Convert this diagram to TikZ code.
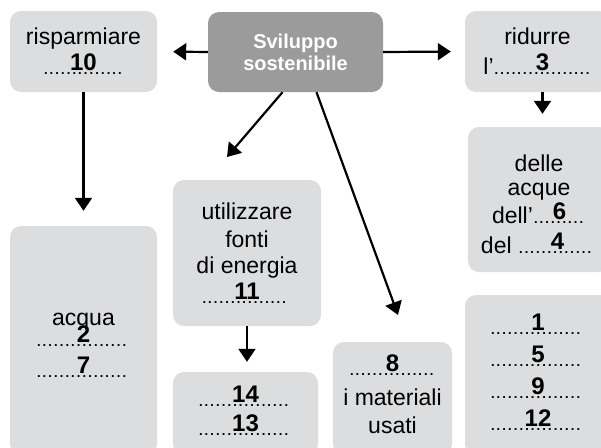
\documentclass[tikz,border=0pt]{standalone}
\usepackage{fontspec}
\setmainfont{Liberation Sans}
\usetikzlibrary{arrows.meta}

\definecolor{boxgray}{RGB}{220,221,223}
\definecolor{darkgray}{RGB}{155,155,156}

\newcommand{\numfont}{\fontsize{24}{24}\selectfont\bfseries}
\newcommand{\dotsrow}[1]{\makebox[#1]{\leaders\hbox to 5.7pt{\hss\fontsize{13}{13}\selectfont\bfseries.\hss}\hfill}}
\newcommand{\blank}[2]{\makebox[0pt][l]{\dotsrow{#1}}\makebox[#1]{\raisebox{4pt}[0pt][0pt]{\numfont #2}}}
\newcommand{\lift}[1]{\rule{0pt}{#1}}

\begin{document}
\begin{tikzpicture}[x=1pt, y=-1pt,
  box/.style={fill=boxgray, rounded corners=11pt, align=center, inner sep=0pt,
    font=\fontsize{23}{26}\selectfont},
  mainbox/.style={box, fill=darkgray, text=white,
    font=\fontsize{20}{22}\selectfont\bfseries},
  arr/.style={-{Triangle[length=13pt, width=17pt]}, line width=2.2pt}]

\useasboundingbox (0,0) rectangle (601,447);

% Boxes
\node[mainbox, minimum width=175pt, minimum height=80pt] (svil) at (295.5,52)
  {Sviluppo\\sostenibile};
\node[box, minimum width=147pt, minimum height=81pt] (rispar) at (83.5,51.5)
  {risparmiare\\[4pt]\blank{81pt}{10}};
\node[box, minimum width=145pt, minimum height=81pt] (ridurre) at (537.5,51.5)
  {ridurre\\[4pt]l’\blank{98pt}{3}};
\node[box, minimum width=142pt, minimum height=145pt] (delle) at (539,199.5)
  {\lift{27pt}delle\\[-2pt]acque\\[2pt]dell’\blank{53pt}{6}\\[4pt]del \blank{79pt}{4}};
\node[box, minimum width=148pt, minimum height=146pt] (util) at (247,253)
  {utilizzare\\[2pt]fonti\\di energia\\[4pt]\blank{91pt}{11}};
\node[box, minimum width=147pt, minimum height=229pt] (acqua) at (83.5,340.5)
  {\lift{22pt}acqua\\[-5pt]\blank{95pt}{2}\\[5pt]\blank{95pt}{7}};
\node[box, minimum width=145pt, minimum height=83pt] (energy) at (245.5,413.5)
  {\lift{14pt}\blank{95pt}{14}\\[3pt]\blank{95pt}{13}};
\node[box, minimum width=119pt, minimum height=113pt] (mater) at (392.5,398.5)
  {\lift{12pt}\blank{87pt}{8}\\[4pt]i materiali\\[2pt]usati};
\node[box, minimum width=146pt, minimum height=160pt] (numbers) at (538,375)
  {\lift{14pt}\blank{96pt}{1}\\[6pt]\blank{96pt}{5}\\[6pt]\blank{96pt}{9}\\[6pt]\blank{96pt}{12}};

% Free arrow ends
\coordinate (tipU) at (227,157);
\coordinate (tipM) at (398,315);

% Arrows
\draw[arr, shorten >=16pt] (svil.west) -- (rispar.east);
\draw[arr, shorten >=14pt] (svil.east) -- (ridurre.west);
\draw[arr, shorten >=15pt] (rispar.south) -- (acqua.north);
\draw[arr] ([xshift=-13pt]svil.south) -- (tipU);
\draw[arr] ([xshift=21pt]svil.south) -- (tipM);
\draw[arr, shorten >=13pt] ([xshift=5pt]ridurre.south) -- ([xshift=5pt]ridurre.south |- delle.north);
\draw[arr, shorten >=10pt] (util.south) -- (util.south |- energy.north);

\end{tikzpicture}
\end{document}
